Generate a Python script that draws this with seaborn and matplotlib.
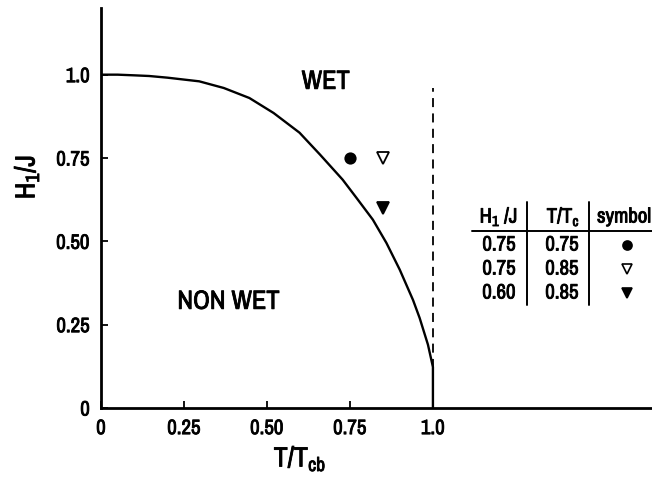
import matplotlib
matplotlib.use("Agg")
import matplotlib.pyplot as plt
from matplotlib import font_manager
from matplotlib import patheffects
from matplotlib.lines import Line2D
import seaborn as sns
import pandas as pd

# Wetting phase boundary H1/J versus T/Tcb
boundary_t = [0.0, 0.05, 0.10, 0.145, 0.20, 0.296, 0.37, 0.447, 0.52, 0.598,
              0.66, 0.728, 0.77, 0.819, 0.86, 0.90, 0.94, 0.96, 0.985, 1.0, 1.0]
boundary_h = [1.0, 1.0, 0.998, 0.996, 0.991, 0.98, 0.96, 0.93, 0.885, 0.826,
              0.76, 0.685, 0.63, 0.565, 0.495, 0.415, 0.324, 0.27, 0.19, 0.123, 0.0]

# Simulated state points
point_h = [0.75, 0.75, 0.60]
point_t = [0.75, 0.85, 0.85]
point_labels = ["0.75", "0.75", "0.60"]
point_t_labels = ["0.75", "0.85", "0.85"]
point_markers = ["o", "v", "v"]
point_filled = [True, False, True]

x_ticks = [0, 0.25, 0.50, 0.75, 1.0]
x_ticklabels = ["0", "0.25", "0.50", "0.75", "1.0"]
y_ticks = [0, 0.25, 0.50, 0.75, 1.0]
y_ticklabels = ["0", "0.25", "0.50", "0.75", "1.0"]

sns.set_style("ticks")

# prefer a narrow face when one is installed
narrow = None
for f in font_manager.fontManager.ttflist:
    if ("Condensed" in f.name or "Narrow" in f.name) and f.style == "normal":
        narrow = f.name
        break
family = [narrow] if narrow else []
family += ["Roboto", "DejaVu Sans"]
plt.rcParams["font.family"] = family
plt.rcParams["text.color"] = "black"
plt.rcParams["axes.labelcolor"] = "black"

# heavier strokes for all lettering
heavy = [patheffects.withStroke(linewidth=0.6, foreground="black")]

W, H = 652, 490
fig = plt.figure(figsize=(W / 100, H / 100), dpi=100)
ax = fig.add_axes([101 / W, 1 - 408 / H, 1 - 101 / W, (408 - 8) / H])


def fx(px):
    return px / W


def fy(py):
    return 1 - py / H


def label(x, y, s, size, **kw):
    return fig.text(fx(x), fy(y), s, fontsize=size, path_effects=heavy, **kw)


curve = pd.DataFrame({"t": boundary_t, "h": boundary_h})
sns.lineplot(data=curve, x="t", y="h", sort=False, estimator=None,
             color="black", linewidth=1.7, ax=ax)
for ln in ax.lines:
    ln.set_solid_joinstyle("round")

# T = Tcb reference line
ax.axvline(1.0, ymin=0.10, ymax=0.80, color="black", linewidth=1.3,
           linestyle=(0, (5, 3.5)))

for t, h, m, f in zip(point_t, point_h, point_markers, point_filled):
    ax.plot([t], [h], marker=m, markersize=7.5 if m == "o" else 8,
            markerfacecolor="black" if f else "white",
            markeredgecolor="black", markeredgewidth=1.3, linestyle="none")

ax.set_xlim(0, 1.66)
ax.set_ylim(0, 1.2)
ax.set_xticks(x_ticks)
ax.set_xticklabels(x_ticklabels)
ax.set_yticks(y_ticks)
ax.set_yticklabels(y_ticklabels)
ax.tick_params(direction="in", length=5, width=1.3, labelsize=15, pad=8,
               colors="black")
for lab in ax.get_xticklabels() + ax.get_yticklabels():
    lab.set_path_effects(heavy)
for side in ("top", "right"):
    ax.spines[side].set_visible(False)
for side in ("left", "bottom"):
    ax.spines[side].set_linewidth(2.0)
    ax.spines[side].set_color("black")

ax.set_xlabel("")
ax.set_ylabel("")
label(300, 459, r"T/T$_{\mathregular{cb}}$", 20, ha="center", va="center")
label(27, 177, r"H$_{\mathregular{1}}$/J", 20, ha="center", va="center",
      rotation=90)

ax.text(0.677, 0.98, "WET", fontsize=19, ha="center", va="center",
        path_effects=heavy)
ax.text(0.384, 0.32, "NON WET", fontsize=19, ha="center", va="center",
        path_effects=heavy)

# Legend table of the state points
tfs = 15
label(518, 217, r"H$_{\mathregular{1}}$ /J", tfs, ha="right", va="center")
label(580, 217, r"T/T$_{\mathregular{c}}$", tfs, ha="right", va="center")
label(597, 217, "symbol", tfs, ha="left", va="center")
fig.add_artist(Line2D([fx(472), fx(652)], [fy(231), fy(231)], color="black",
                      linewidth=1.4))
for xv in (527, 589):
    fig.add_artist(Line2D([fx(xv), fx(xv)], [fy(202), fy(305)],
                          color="black", linewidth=1.4))
row_y = [245, 269, 293]
for ry, hl, tl, m, f in zip(row_y, point_labels, point_t_labels,
                            point_markers, point_filled):
    label(516, ry, hl, tfs, ha="right", va="center")
    label(579, ry, tl, tfs, ha="right", va="center")
    fig.add_artist(Line2D([fx(627)], [fy(ry)], marker=m,
                          markersize=6.5 if m == "o" else 7,
                          markerfacecolor="black" if f else "white",
                          markeredgecolor="black", markeredgewidth=1.2,
                          linestyle="none"))

fig.savefig("out.png", dpi=100)
